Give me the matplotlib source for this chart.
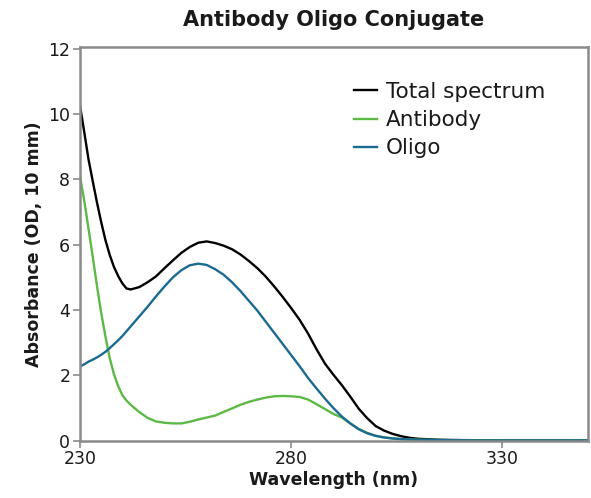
import matplotlib
matplotlib.use("Agg")
import matplotlib.pyplot as plt

wavelength = [230, 231, 232, 233, 234, 235, 236, 237, 238, 239, 240, 241, 242, 244, 246, 248,
              250, 252, 254, 256, 258, 260, 262, 264, 266, 268, 270, 272, 274, 276, 278, 280,
              282, 284, 286, 288, 290, 292, 294, 296, 298, 300, 302, 304, 306, 308, 310, 315,
              320, 330, 340, 350]

total = [10.25, 9.45, 8.62, 7.95, 7.3, 6.7, 6.15, 5.7, 5.33, 5.05, 4.82, 4.66, 4.63, 4.70, 4.85, 5.03,
         5.28, 5.52, 5.75, 5.93, 6.06, 6.10, 6.05, 5.97, 5.86, 5.70, 5.50, 5.28, 5.02, 4.72, 4.40, 4.06,
         3.70, 3.28, 2.80, 2.36, 2.02, 1.70, 1.35, 0.98, 0.69, 0.45, 0.31, 0.21, 0.14, 0.09, 0.06, 0.03,
         0.02, 0.01, 0.01, 0.01]

antibody = [8.09, 7.35, 6.5, 5.64, 4.75, 3.92, 3.2, 2.55, 2.05, 1.68, 1.40, 1.23, 1.10, 0.88, 0.70, 0.59,
            0.55, 0.53, 0.53, 0.58, 0.65, 0.71, 0.77, 0.88, 0.99, 1.10, 1.19, 1.26, 1.32, 1.36, 1.37, 1.36,
            1.34, 1.26, 1.12, 0.97, 0.82, 0.71, 0.53, 0.36, 0.24, 0.15, 0.10, 0.07, 0.05, 0.04, 0.03, 0.02,
            0.01, 0.01, 0.01, 0.01]

oligo = [2.27, 2.34, 2.42, 2.48, 2.55, 2.63, 2.72, 2.83, 2.95, 3.07, 3.2, 3.35, 3.5, 3.8, 4.1, 4.42,
         4.72, 5.0, 5.22, 5.37, 5.42, 5.38, 5.25, 5.08, 4.85, 4.58, 4.28, 3.98, 3.64, 3.30, 2.96, 2.62,
         2.28, 1.92, 1.60, 1.29, 1.00, 0.74, 0.53, 0.35, 0.23, 0.15, 0.10, 0.07, 0.05, 0.04, 0.03, 0.02,
         0.01, 0.01, 0.01, 0.01]

series_names = ["Total spectrum", "Antibody", "Oligo"]
x_ticks = [230, 280, 330]
y_ticks = [0, 2, 4, 6, 8, 10, 12]

plt.rcParams['font.family'] = ['DejaVu Sans']

fig = plt.figure(figsize=(5.91, 4.98), dpi=100)
ax = fig.add_axes([0.1354, 0.115, 0.8596, 0.7906])

ax.plot(wavelength, total, color="#000000", lw=1.7, label=series_names[0])
ax.plot(wavelength, antibody, color="#5cb946", lw=1.7, label=series_names[1])
ax.plot(wavelength, oligo, color="#1b6a92", lw=1.7, label=series_names[2])

ax.set_xlim(230, 350.3)
ax.set_ylim(0, 12.05)
ax.set_xticks(x_ticks)
ax.set_yticks(y_ticks)

for s in ax.spines.values():
    s.set_color("#8a8a8a")
    s.set_linewidth(1.8)

ax.tick_params(axis="both", direction="out", length=5, width=1.2, color="#8a8a8a",
               labelsize=12.5, labelcolor="#1a1a1a", pad=2)

ax.set_xlabel("Wavelength (nm)", fontsize=12.5, fontweight="bold", color="#1a1a1a", labelpad=2)
ax.set_ylabel("Absorbance (OD, 10 mm)", fontsize=12.5, fontweight="bold", color="#1a1a1a", labelpad=4)
ax.set_title("Antibody Oligo Conjugate", fontsize=15, fontweight="bold", color="#1a1a1a", pad=15)

leg = ax.legend(loc="upper left", bbox_to_anchor=(0.54, 0.912), frameon=False, fontsize=15.5,
                handlelength=1.05, handletextpad=0.4, labelspacing=0.39, borderaxespad=0,
                borderpad=0)
for t in leg.get_texts():
    t.set_color("#1a1a1a")

fig.savefig("out.png", dpi=100)
